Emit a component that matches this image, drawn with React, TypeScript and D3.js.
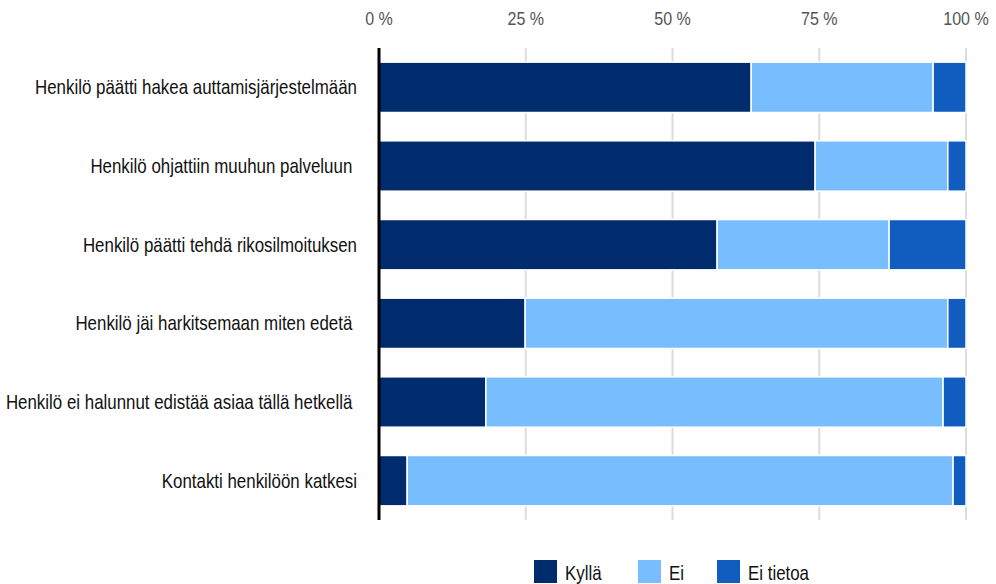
import React from "react";
import * as d3 from "d3";

const categories = [
  "Henkilö päätti hakea auttamisjärjestelmään",
  "Henkilö ohjattiin muuhun palveluun ",
  "Henkilö päätti tehdä rikosilmoituksen",
  "Henkilö jäi harkitsemaan miten edetä ",
  "Henkilö ei halunnut edistää asiaa tällä hetkellä ",
  "Kontakti henkilöön katkesi",
];
const seriesNames = ["Kyllä", "Ei", "Ei tietoa"];
const kylla = [63.4, 74.3, 57.6, 24.9, 18.2, 4.8];
const ei = [31.0, 22.6, 29.3, 72.0, 77.9, 93.0];
const eiTietoa = [5.6, 3.1, 13.1, 3.1, 3.9, 2.2];
const ticks = [0, 25, 50, 75, 100];
const colors = ["#002b6d", "#78bdfe", "#105cbf"];

// condensed look: regular sans squeezed horizontally
const font = "'Liberation Sans', Arial, sans-serif";
const squeeze = 0.845;

function Txt({ x, y, anchor = "start", size = 20, fill = "#111", children }: any) {
  return (
    <g transform={`translate(${x},${y}) scale(${squeeze},1)`}>
      <text textAnchor={anchor} fontFamily={font} fontSize={size} fill={fill} style={{ whiteSpace: "pre" }}>
        {children}
      </text>
    </g>
  );
}

export default function App() {
  const width = 996;
  const height = 584;
  const margin = { left: 379, right: 30, top: 48, bottom: 64 };

  const x = d3.scaleLinear().domain([0, 100]).range([margin.left, width - margin.right]);
  const y = d3
    .scaleBand()
    .domain(categories)
    .range([margin.top, height - margin.bottom])
    .paddingInner(0.36)
    .paddingOuter(0.18);

  const rows = categories.map((c, i) => ({ c, Kyllä: kylla[i], Ei: ei[i], "Ei tietoa": eiTietoa[i] }));
  const stacked = d3.stack<any>().keys(seriesNames)(rows);

  const legendX = [534, 638, 717];

  return (
    <svg width={width} height={height} style={{ position: "absolute", left: 0, top: 0 }}>
      {ticks.map((t) => (
        <g key={t}>
          {t > 0 && (
            <line x1={x(t)} x2={x(t)} y1={margin.top} y2={height - margin.bottom} stroke="#dcdcdc" strokeWidth={2} />
          )}
          <Txt x={x(t)} y={25} anchor="middle" size={19} fill="#555">
            {t} %
          </Txt>
        </g>
      ))}
      {stacked.map((s, si) => (
        <g key={s.key} fill={colors[si]}>
          {s.map((d, i) => (
            <rect
              key={i}
              x={x(d[0])}
              width={x(d[1]) - x(d[0])}
              y={y(categories[i])}
              height={y.bandwidth()}
              stroke="#fff"
              strokeWidth={1.5}
            />
          ))}
        </g>
      ))}
      <line x1={margin.left} x2={margin.left} y1={margin.top} y2={height - margin.bottom} stroke="#000" strokeWidth={3} />
      {categories.map((c) => (
        <Txt key={c} x={margin.left - 22} y={(y(c) ?? 0) + y.bandwidth() / 2 + 7} anchor="end" size={20}>
          {c}
        </Txt>
      ))}
      {seriesNames.map((n, i) => (
        <g key={n}>
          <rect x={legendX[i]} y={560} width={23} height={23} fill={colors[i]} />
          <Txt x={legendX[i] + 31} y={580} size={20}>
            {n}
          </Txt>
        </g>
      ))}
    </svg>
  );
}
